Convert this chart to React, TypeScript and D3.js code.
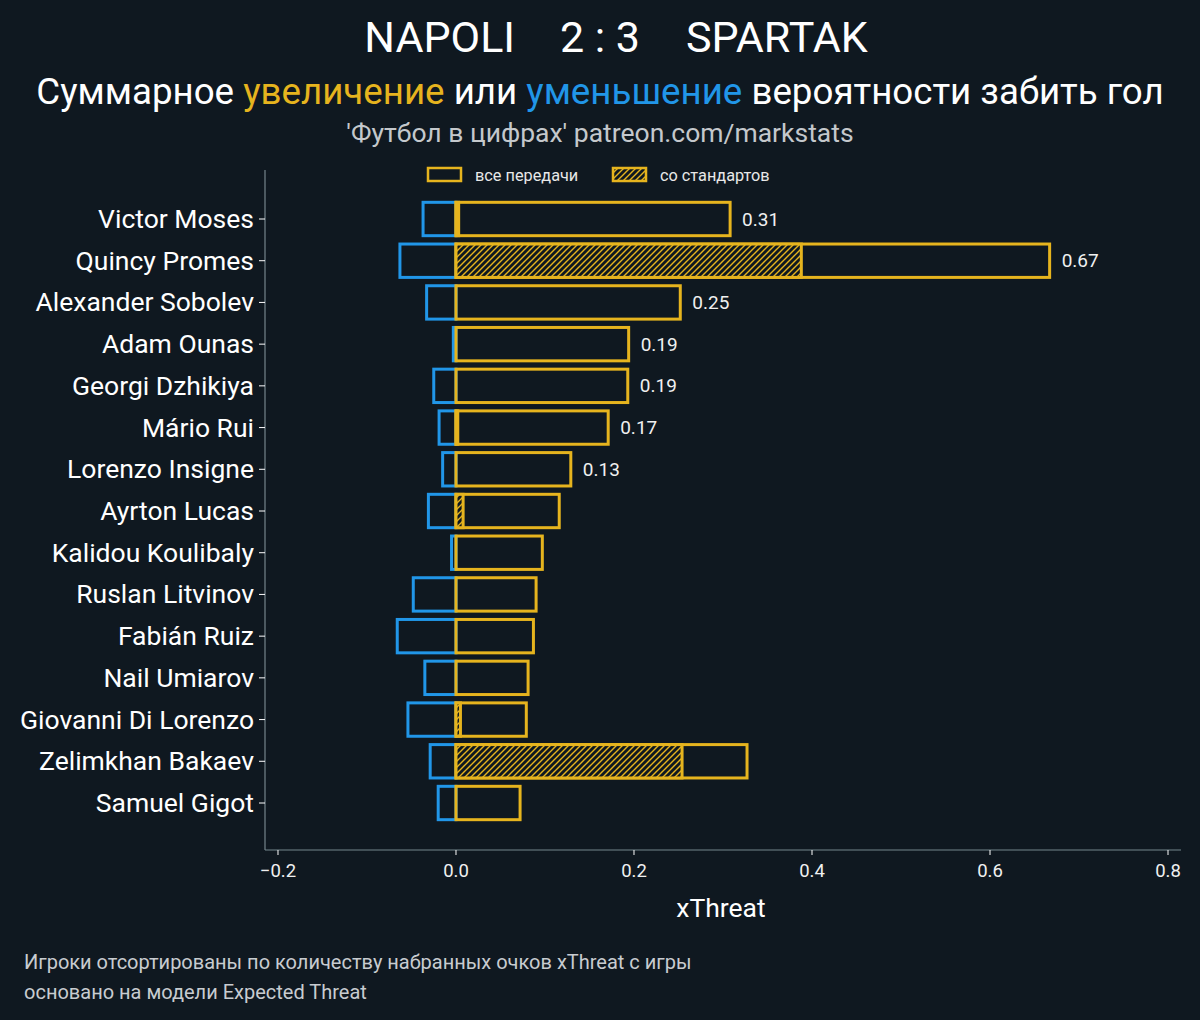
import React from "react";
import * as d3 from "d3";

const players = [
  "Victor Moses", "Quincy Promes", "Alexander Sobolev", "Adam Ounas", "Georgi Dzhikiya",
  "Mário Rui", "Lorenzo Insigne", "Ayrton Lucas", "Kalidou Koulibaly", "Ruslan Litvinov",
  "Fabián Ruiz", "Nail Umiarov", "Giovanni Di Lorenzo", "Zelimkhan Bakaev", "Samuel Gigot",
];
const positiveAll = [0.308, 0.667, 0.252, 0.194, 0.193, 0.171, 0.129, 0.116, 0.097, 0.090, 0.087, 0.081, 0.079, 0.327, 0.072];
const positiveSetPiece = [0.003, 0.388, 0, 0, 0, 0.002, 0, 0.008, 0, 0, 0, 0, 0.005, 0.254, 0];
const negative = [-0.037, -0.063, -0.033, -0.003, -0.025, -0.019, -0.015, -0.031, -0.005, -0.048, -0.066, -0.035, -0.054, -0.029, -0.020];
const labelledRows = 7;
const xTicks = [-0.2, 0, 0.2, 0.4, 0.6, 0.8];

const BG = "#0f1820";
const YEL = "#e6b41e";
const BLUE = "#2196e8";
const SPINE = "#75858c";
const FONT = "Roboto, 'Noto Sans', sans-serif";

export default function App() {
  const x = d3.scaleLinear().domain([-0.2146, 0.8146]).range([265, 1181]);
  const y = d3.scalePoint<string>().domain(players).range([219, 803]);
  const step = y.step();
  const bh = step * 0.8;
  const fmt = (v: number) => (v < 0 ? "\u2212" : "") + d3.format(".1f")(Math.abs(v));

  return (
    <svg width={1200} height={1020} style={{ position: "absolute", left: 0, top: 0 }} fontFamily={FONT}>
      <defs>
        <pattern id="hatch" patternUnits="userSpaceOnUse" width={6} height={6}>
          <rect width={6} height={6} fill={BG} />
          <path d="M-1,1 l2,-2 M0,6 l6,-6 M5,7 l2,-2" stroke={YEL} strokeWidth={1.4} />
        </pattern>
      </defs>
      <rect width={1200} height={1020} fill={BG} />

      {/* titles */}
      <text x={515} y={52} fontSize={43} fill="#fff" textAnchor="end">NAPOLI</text>
      <text x={600} y={52} fontSize={43} fill="#fff" textAnchor="middle">2 : 3</text>
      <text x={686} y={52} fontSize={43} fill="#fff" textAnchor="start">SPARTAK</text>
      <text x={600} y={104} fontSize={36.7} fill="#fff" textAnchor="middle">
        Суммарное <tspan fill={YEL}>увеличение</tspan> или <tspan fill={BLUE}>уменьшение</tspan> вероятности забить гол
      </text>
      <text x={600} y={142} fontSize={26.5} fill="#c4c8cc" textAnchor="middle">'Футбол в цифрах' patreon.com/markstats</text>

      {/* legend */}
      <rect x={428} y={168} width={33} height={13} fill={BG} stroke={YEL} strokeWidth={2.5} />
      <text x={475} y={180.5} fontSize={16.3} fill="#e8e8e8">все передачи</text>
      <rect x={613} y={168} width={33} height={13} fill="url(#hatch)" stroke={YEL} strokeWidth={2.5} />
      <text x={660} y={180.5} fontSize={16.3} fill="#e8e8e8">со стандартов</text>

      {/* spines */}
      <line x1={265} x2={265} y1={170} y2={850} stroke={SPINE} strokeWidth={1.2} />
      <line x1={265} x2={1181} y1={850} y2={850} stroke={SPINE} strokeWidth={1.2} />

      {/* x ticks */}
      {xTicks.map((t) => (
        <g key={t}>
          <line x1={x(t)} x2={x(t)} y1={850} y2={855} stroke="#fff" strokeWidth={1} />
          <text x={x(t)} y={877} fontSize={18.5} fill="#f0f0f0" textAnchor="middle">{fmt(t)}</text>
        </g>
      ))}
      <text x={721} y={917} fontSize={26.5} fill="#fff" textAnchor="middle">xThreat</text>

      {/* y ticks & labels */}
      {players.map((p) => (
        <g key={p}>
          <line x1={259} x2={265} y1={y(p)!} y2={y(p)!} stroke="#fff" strokeWidth={1} />
          <text x={254} y={y(p)! + 9} fontSize={26.5} fill="#fff" textAnchor="end">{p}</text>
        </g>
      ))}

      {/* bars */}
      {players.map((p, i) => {
        const cy = y(p)!;
        const top = cy - bh / 2;
        return (
          <g key={p}>
            <rect x={x(negative[i])} y={top} width={x(0) - x(negative[i])} height={bh} fill="none" stroke={BLUE} strokeWidth={3} />
            <rect x={x(0)} y={top} width={x(positiveAll[i]) - x(0)} height={bh} fill="none" stroke={YEL} strokeWidth={3} />
            {positiveSetPiece[i] > 0 && (
              <rect x={x(0)} y={top} width={x(positiveSetPiece[i]) - x(0)} height={bh} fill="url(#hatch)" stroke={YEL} strokeWidth={3} />
            )}
            {i < labelledRows && (
              <text x={x(positiveAll[i]) + 12} y={cy + 6.5} fontSize={19} fill="#f0f0f0">{d3.format(".2f")(positiveAll[i])}</text>
            )}
          </g>
        );
      })}

      {/* footer */}
      <text x={24} y={969} fontSize={20} fill="#c8ccd0">Игроки отсортированы по количеству набранных очков xThreat с игры</text>
      <text x={24} y={999} fontSize={20} fill="#c8ccd0">основано на модели Expected Threat</text>
    </svg>
  );
}
